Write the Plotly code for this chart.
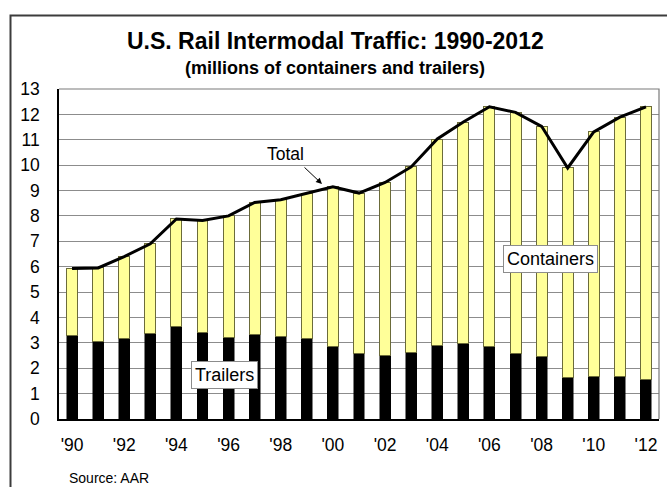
import plotly.graph_objects as go

years = [1990, 1991, 1992, 1993, 1994, 1995, 1996, 1997, 1998, 1999, 2000, 2001,
         2002, 2003, 2004, 2005, 2006, 2007, 2008, 2009, 2010, 2011, 2012]
trailers = [3.28, 3.07, 3.16, 3.37, 3.64, 3.41, 3.22, 3.34, 3.24, 3.16, 2.85, 2.57,
            2.52, 2.63, 2.89, 2.97, 2.86, 2.60, 2.45, 1.64, 1.69, 1.67, 1.54]
containers = [2.65, 2.88, 3.24, 3.53, 4.24, 4.41, 4.78, 5.19, 5.40, 5.72, 6.30, 6.33,
              6.80, 7.30, 8.14, 8.73, 9.44, 9.48, 9.08, 8.25, 9.62, 10.22, 10.76]
total = [t + c for t, c in zip(trailers, containers)]
tick_years = [1990, 1992, 1994, 1996, 1998, 2000, 2002, 2004, 2006, 2008, 2010, 2012]
tick_labels = ["'90", "'92", "'94", "'96", "'98", "'00", "'02", "'04", "'06", "'08", "'10", "'12"]
y_ticks = list(range(0, 14))

FONT = "Liberation Sans, Arial, sans-serif"
L, R, T, B = 59, 8, 89, 68
W, H = 667, 487
PW, PH = W - L - R, H - T - B


def px(x):
    return (x - L) / PW


def py(y):
    return (H - B - y) / PH


fig = go.Figure()
fig.add_trace(go.Bar(x=years, y=trailers, name="Trailers",
                     marker=dict(color="#000000", line=dict(color="#000000", width=0.5))))
fig.add_trace(go.Bar(x=years, y=containers, name="Containers",
                     marker=dict(color="#FFFF99", line=dict(color="#6b6b3a", width=1))))
fig.add_trace(go.Scatter(x=years, y=total, mode="lines", name="Total",
                         line=dict(color="#000000", width=3)))

fig.update_layout(
    width=W, height=H,
    margin=dict(l=L, r=R, t=T, b=B),
    barmode="stack", bargap=0.58,
    showlegend=False,
    paper_bgcolor="white", plot_bgcolor="white",
    font=dict(family=FONT, color="#000000"),
    xaxis=dict(range=[1989.5, 2012.5], tickvals=tick_years, ticktext=tick_labels,
               showgrid=False, zeroline=False, showline=True, linecolor="#000000",
               linewidth=1.5, ticks="", tickfont=dict(size=17.5, family=FONT),
               ticklabelstandoff=9),
    yaxis=dict(range=[0, 13], tickvals=y_ticks, showgrid=True, gridcolor="#8c8c8c",
               gridwidth=1, zeroline=False, showline=True, linecolor="#000000",
               linewidth=1.5, ticks="", tickfont=dict(size=17.5, family=FONT),
               ticklabelstandoff=14),
)

shapes = [
    # plot area border top / right
    dict(type="path", xref="paper", yref="paper",
         path="M 0 1 L 1 1 L 1 0", line=dict(color="#7a7a7a", width=1.2)),
    # outer frame (top and left visible)
    dict(type="path", xref="paper", yref="paper",
         path=f"M {px(10.5)} {py(490)} L {px(10.5)} {py(15.5)} L {px(670)} {py(15.5)}",
         line=dict(color="#3c3c3c", width=2)),
]
fig.update_layout(shapes=shapes)

ann = [
    dict(text="<b>U.S. Rail Intermodal Traffic: 1990-2012</b>", x=px(335), y=py(40.5),
         xref="paper", yref="paper", showarrow=False, font=dict(size=23, family=FONT),
         xanchor="center", yanchor="middle"),
    dict(text="<b>(millions of containers and trailers)</b>", x=px(335), y=py(68),
         xref="paper", yref="paper", showarrow=False, font=dict(size=18, family=FONT),
         xanchor="center", yanchor="middle"),
    dict(text="Source: AAR", x=px(67), y=py(478), xref="paper", yref="paper",
         showarrow=False, font=dict(size=14, family=FONT), xanchor="left", yanchor="middle"),
    dict(text="Total", x=px(285), y=py(154), xref="paper", yref="paper",
         showarrow=False, font=dict(size=17.5, family=FONT), xanchor="center", yanchor="middle"),
    dict(text="", x=px(322), y=py(184), xref="paper", yref="paper", showarrow=True,
         ax=-19, ay=-18, arrowhead=2, arrowsize=1.2, arrowwidth=1, arrowcolor="#000000"),
    dict(text="Containers", x=px(550.5), y=py(258.5), xref="paper", yref="paper",
         showarrow=False, font=dict(size=18, family=FONT), bgcolor="white",
         bordercolor="#8c8c8c", borderwidth=1, borderpad=3, xanchor="center", yanchor="middle"),
    dict(text="Trailers", x=px(224.5), y=py(375), xref="paper", yref="paper",
         showarrow=False, font=dict(size=18, family=FONT), bgcolor="white",
         bordercolor="#8c8c8c", borderwidth=1, borderpad=3, xanchor="center", yanchor="middle"),
]
fig.update_layout(annotations=ann)

fig.write_html("out.html")
